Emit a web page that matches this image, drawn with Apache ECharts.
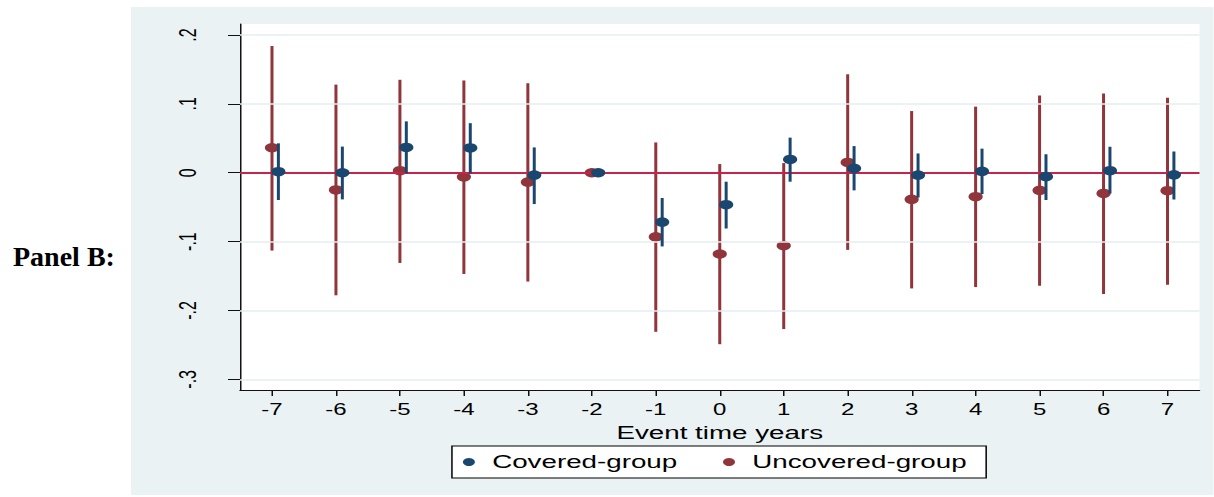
<!DOCTYPE html>
<html>
<head>
<meta charset="utf-8">
<script src="https://cdn.jsdelivr.net/npm/echarts@6/dist/echarts.min.js"></script>
<style>
  html, body { margin: 0; padding: 0; background: #ffffff; }
  #page { position: relative; width: 1214px; height: 497px; overflow: hidden; background: #ffffff; }
  /* The original Stata graph is stretched horizontally by 1.5x; reproduce that */
  #chart { position: absolute; left: 0; top: 0; width: 809.333px; height: 497px;
           transform: scaleX(1.5); transform-origin: 0 0; }
</style>
</head>
<body>
<div id="page"><div id="chart"></div></div>
<script>
// ---- data ----
const years = [-7, -6, -5, -4, -3, -2, -1, 0, 1, 2, 3, 4, 5, 6, 7];

const coveredCoef = [0.0015, 0.0, 0.0368, 0.036, -0.0034, 0, -0.0716, -0.0464, 0.0194, 0.0064, -0.0034, 0.002, -0.0058, 0.003, -0.003];
const coveredLow  = [-0.0396, -0.0387, -0.001, -0.001, -0.0455, null, -0.107, -0.081, -0.013, -0.0256, -0.036, -0.031, -0.0396, -0.030, -0.0387];
const coveredHigh = [0.0427, 0.038, 0.0746, 0.072, 0.0368, null, -0.0367, -0.013, 0.051, 0.0387, 0.028, 0.035, 0.0267, 0.0377, 0.031];

const uncoveredCoef = [0.0363, -0.025, 0.003, -0.006, -0.0135, 0, -0.093, -0.118, -0.106, 0.015, -0.0386, -0.0348, -0.0256, -0.030, -0.026];
const uncoveredLow  = [-0.113, -0.178, -0.131, -0.147, -0.158, null, -0.231, -0.249, -0.227, -0.112, -0.168, -0.166, -0.164, -0.176, -0.1626];
const uncoveredHigh = [0.184, 0.128, 0.135, 0.134, 0.130, null, 0.044, 0.0126, 0.014, 0.143, 0.0896, 0.096, 0.112, 0.115, 0.109];

const yTicks = [-0.3, -0.2, -0.1, 0, 0.1, 0.2];
const seriesNames = ['Covered-group', 'Uncovered-group'];
const xTitle = 'Event time years';
const panelLabel = 'Panel B:';

// ---- style ----
const BLUE = '#1a476f';
const RED = '#90353b';
const ZERO = '#c8234a';
const BG = '#eaf2f3';
const GRIDC = '#e6eef0';
const COVERED_SHIFT = 0.1;
const FONT = '"Liberation Sans", Arial, Helvetica, sans-serif';

function pts(xs, ys, shift) {
  return xs.map((x, i) => [x + shift, ys[i]]);
}
function bars(xs, lo, hi, shift) {
  const out = [];
  xs.forEach((x, i) => { if (lo[i] !== null && hi[i] !== null) out.push([x + shift, lo[i], hi[i]]); });
  return out;
}
function ciRenderer(color) {
  return function (params, api) {
    const a = api.coord([api.value(0), api.value(1)]);
    const b = api.coord([api.value(0), api.value(2)]);
    return { type: 'line', shape: { x1: a[0], y1: a[1], x2: b[0], y2: b[1] },
             style: { stroke: color, lineWidth: 2 } };
  };
}
function fmtY(v) {
  const r = Math.round(v * 10) / 10;
  if (r === 0) return '0';
  return String(r).replace('0.', '.');
}

const chart = echarts.init(document.getElementById('chart'), null, { renderer: 'svg' });

chart.setOption({
  animation: false,
  backgroundColor: 'transparent',
  graphic: {
    elements: [
      { type: 'rect', z: -100, silent: true,
        shape: { x: 87.3, y: 7, width: 722.1, height: 488 },
        style: { fill: BG } },
      { type: 'text', x: 8.67, y: 257, scaleX: 1 / 1.5, silent: true,
        style: { text: panelLabel, font: 'bold 28px "Liberation Serif", "Times New Roman", serif',
                 fill: '#000', textVerticalAlign: 'middle', textAlign: 'left' } }
    ]
  },
  grid: { left: 160, right: 9.333, top: 24, bottom: 107, show: true,
          backgroundColor: '#ffffff', borderWidth: 0 },
  legend: {
    left: 301.3, top: 446,
    data: [
      { name: seriesNames[0], icon: 'circle', itemStyle: { color: BLUE } },
      { name: seriesNames[1], icon: 'circle', itemStyle: { color: RED } }
    ],
    itemWidth: 21, itemHeight: 8, itemGap: 30.5,
    padding: [6, 13, 6, 7.3],
    backgroundColor: '#ffffff', borderColor: '#000000', borderWidth: 1, borderRadius: 0,
    textStyle: { fontSize: 18.5, lineHeight: 20, color: '#000', fontFamily: FONT },
    selectedMode: false
  },
  xAxis: {
    type: 'value', min: -7.5, max: 7.5,
    name: xTitle, nameLocation: 'middle', nameGap: 26,
    nameTextStyle: { fontSize: 18.5, color: '#000', fontFamily: FONT },
    axisLine: { show: true, onZero: false, lineStyle: { color: '#111', width: 1 } },
    axisTick: { show: true, customValues: years, length: 6, lineStyle: { color: '#111' } },
    axisLabel: { customValues: years, margin: 12, fontSize: 16, color: '#000', fontFamily: FONT },
    splitLine: { show: false }
  },
  yAxis: {
    type: 'value', min: -0.3155, max: 0.216,
    axisLine: { show: true, onZero: false, lineStyle: { color: '#111', width: 1 } },
    axisTick: { show: true, customValues: yTicks, length: 8, lineStyle: { color: '#111' } },
    axisLabel: { customValues: yTicks, rotate: 90, margin: 27, fontSize: 16, color: '#000',
                 fontFamily: FONT, formatter: fmtY },
    splitLine: { show: false }
  },
  series: [
    { type: 'scatter', name: 'reference lines', data: [], silent: true,
      markLine: {
        silent: true, symbol: 'none', label: { show: false },
        data: yTicks.map(v => ({ yAxis: v, lineStyle: v === 0
            ? { color: ZERO, width: 2, type: 'solid' }
            : { color: GRIDC, width: 1.5, type: 'solid' } }))
      }
    },
    { type: 'custom', name: 'Uncovered CI', renderItem: ciRenderer(RED),
      data: bars(years, uncoveredLow, uncoveredHigh, 0), encode: { x: 0, y: [1, 2] }, z: 3 },
    { type: 'scatter', name: seriesNames[1], data: pts(years, uncoveredCoef, 0),
      symbol: 'circle', symbolSize: 9.5, itemStyle: { color: RED, opacity: 1 }, z: 4 },
    { type: 'custom', name: 'Covered CI', renderItem: ciRenderer(BLUE),
      data: bars(years, coveredLow, coveredHigh, COVERED_SHIFT), encode: { x: 0, y: [1, 2] }, z: 5 },
    { type: 'scatter', name: seriesNames[0], data: pts(years, coveredCoef, COVERED_SHIFT),
      symbol: 'circle', symbolSize: 9.5, itemStyle: { color: BLUE, opacity: 1 }, z: 6 }
  ]
});
</script>
</body>
</html>
